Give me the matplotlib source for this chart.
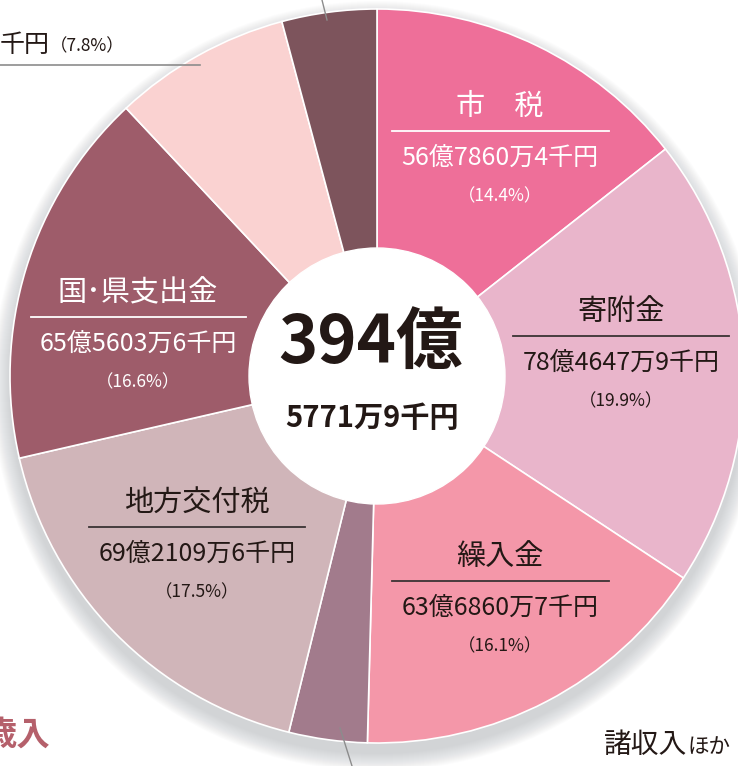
import matplotlib.pyplot as plt
from matplotlib.patches import Circle

plt.rcParams['font.family'] = ['Noto Sans CJK JP', 'DejaVu Sans']

W, H = 738, 766

# 歳入の内訳（億円）
categories = ['市税', '寄附金', '繰入金', '諸収入ほか', '地方交付税', '国・県支出金', 'その他', '市債ほか']
values = [56.7864, 78.4647, 63.6861, 13.6, 69.2110, 65.5604, 30.8, 16.47]
colors = ['#ee6f99', '#e9b5cb', '#f497a9', '#a27b8c', '#d0b5b9', '#9e5c6a', '#fad2d1', '#7d545c']
total_label = ['394億', '5771万9千円']

# 各ラベル（名前, 金額, 割合）
names = ['市\u3000税', '寄附金', '繰入金', '地方交付税', '国\uff65県支出金']
amounts = ['56億7860万4千円', '78億4647万9千円', '63億6860万7千円', '69億2109万6千円', '65億5603万6千円']
pcts = ['（14.4%）', '（19.9%）', '（16.1%）', '（17.5%）', '（16.6%）']

# ラベル位置（ピクセル, 上から）
lab_x = [500, 621, 500, 197, 138]
lab_y = [107, 312, 557, 503, 293]
line_w = [217, 216, 217, 216, 215]
txt_col = ['white', '#231815', '#231815', '#231815', 'white']
line_col = ['white', '#3a3334', '#3a3334', '#3a3334', 'white']

cx, cy, R = 377, 376, 367


def Y(y):
    return H - y


fig = plt.figure(figsize=(W / 100, H / 100), dpi=100)
ax = fig.add_axes([0, 0, 1, 1])

# 影
for i in range(18):
    ax.add_patch(Circle((cx, Y(cy + 10)), R + 18 - i, color='#8f959b', alpha=0.025, lw=0, zorder=0))

ax.pie(values, colors=colors, startangle=90, counterclock=False,
       center=(cx, Y(cy)), radius=R,
       wedgeprops=dict(edgecolor='white', linewidth=1.2))
ax.add_patch(Circle((cx, Y(cy)), 128, color='white', zorder=5))

ax.set_xlim(0, W)
ax.set_ylim(0, H)
ax.set_aspect('equal')
ax.axis('off')

# 中央の合計
ax.text(371, Y(343), total_label[0], ha='center', va='center', fontsize=48, fontweight='bold',
        color='#231815', zorder=6)
ax.text(372, Y(418), total_label[1], ha='center', va='center', fontsize=21, fontweight='bold',
        color='#231815', zorder=6)

for i in range(len(names)):
    x, y = lab_x[i], lab_y[i]
    ax.text(x, Y(y), names[i], ha='center', va='center', fontsize=21, color=txt_col[i], zorder=6)
    ax.plot([x - line_w[i] / 2, x + line_w[i] / 2], [Y(y + 24), Y(y + 24)], color=line_col[i], lw=1.3, zorder=6)
    ax.text(x, Y(y + 51), amounts[i], ha='center', va='center', fontsize=18,
            color=txt_col[i], zorder=6)
    ax.text(x, Y(y + 89), pcts[i], ha='center', va='center', fontsize=12.5,
            color=txt_col[i], zorder=6)

# 左上（切れたラベル）
ax.text(0, Y(45), '千円', ha='left', va='center', fontsize=18, color='#231815')
ax.text(50, Y(46), '（7.8%）', ha='left', va='center', fontsize=12.5, color='#231815')
ax.plot([0, 200], [Y(65), Y(65)], color='#8c8c8c', lw=1.2)

# 引き出し線
ax.plot([327, 322], [Y(20), Y(0)], color='#8c8c8c', lw=1.0, zorder=6)
ax.plot([340, 352], [Y(728), Y(766)], color='#8c8c8c', lw=1.0, zorder=6)

# 諸収入ほか
ax.text(604, Y(745), '諸収入', ha='left', va='center', fontsize=20, color='#231815')
ax.text(688, Y(747), 'ほか', ha='left', va='center', fontsize=15.5, color='#231815')

# 歳入（切れた見出し）
ax.text(50, Y(735), '歳入', ha='right', va='center', fontsize=24, fontweight='bold', color='#b5606b')

fig.savefig('out.png', dpi=100)
